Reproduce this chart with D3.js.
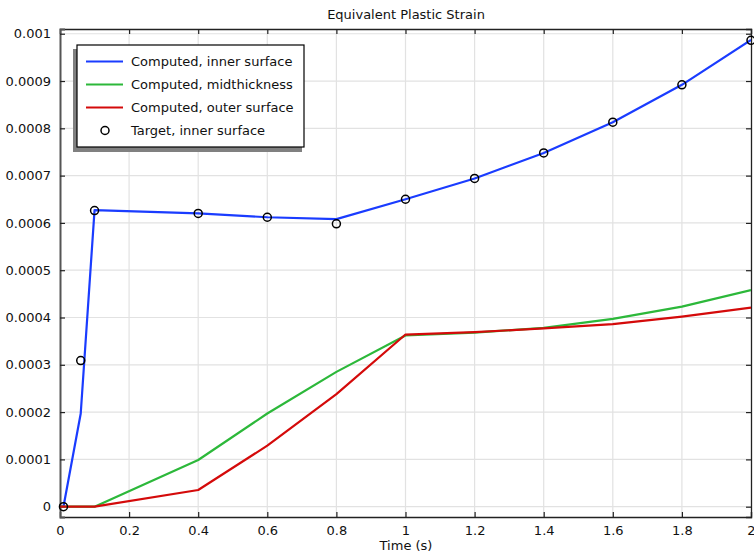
<!DOCTYPE html>
<html>
<head>
<meta charset="utf-8">
<script src="https://cdn.jsdelivr.net/npm/d3@7"></script>
<style>
  body { margin: 0; background: #fff; }
  svg { font-family: "DejaVu Sans", sans-serif; }
</style>
</head>
<body>
<div id="chart"></div>
<script>
var innerTimes = [0, 0.01, 0.06, 0.1, 0.4, 0.6, 0.8, 1.0, 1.2, 1.4, 1.6, 1.8, 2.0];
var innerValues = [0, 0, 0.000197, 0.000627, 0.00062, 0.000612, 0.000608, 0.00065, 0.000694, 0.000748, 0.000813, 0.000892, 0.000987];

var layerTimes = [0, 0.1, 0.4, 0.6, 0.8, 1.0, 1.2, 1.4, 1.6, 1.8, 2.0];
var midValues = [0, 0, 0.0000987, 0.000197, 0.000285, 0.000362, 0.000368, 0.000378, 0.000397, 0.000423, 0.000458];
var outerValues = [0, 0, 0.0000353, 0.000129, 0.000238, 0.000364, 0.000369, 0.000377, 0.000386, 0.000402, 0.000421];

var targetTimes = [0.01, 0.06, 0.1, 0.4, 0.6, 0.8, 1.0, 1.2, 1.4, 1.6, 1.8, 2.0];
var targetValues = [0, 0.000309, 0.000626, 0.00062, 0.000612, 0.000598, 0.00065, 0.000694, 0.000748, 0.000813, 0.000892, 0.000986];

var xTicks = [0, 0.2, 0.4, 0.6, 0.8, 1, 1.2, 1.4, 1.6, 1.8, 2];
var yTicks = [0, 0.0001, 0.0002, 0.0003, 0.0004, 0.0005, 0.0006, 0.0007, 0.0008, 0.0009, 0.001];

var seriesNames = ["Computed, inner surface", "Computed, midthickness", "Computed, outer surface", "Target, inner surface"];
var seriesColors = ["#1a3cff", "#2cb83a", "#d40a0a", "#000"];

var width = 754, height = 555;
var margin = { top: 29, right: 3, bottom: 38, left: 60 };

var svg = d3.select("#chart").append("svg")
    .attr("width", width)
    .attr("height", height);

var x = d3.scaleLinear().domain([0, 2]).range([margin.left, width - margin.right]);
var y = d3.scaleLinear().domain([-0.0000218, 0.00101]).range([height - margin.bottom, margin.top]);

// grid
svg.append("g").selectAll("line.gx")
    .data(xTicks.slice(1, -1))
    .enter().append("line")
    .attr("x1", function (d) { return x(d); })
    .attr("x2", function (d) { return x(d); })
    .attr("y1", margin.top)
    .attr("y2", height - margin.bottom)
    .attr("stroke", "#e2e2e2")
    .attr("stroke-width", 1.2);

svg.append("g").selectAll("line.gy")
    .data(yTicks)
    .enter().append("line")
    .attr("x1", margin.left)
    .attr("x2", width - margin.right)
    .attr("y1", function (d) { return y(d); })
    .attr("y2", function (d) { return y(d); })
    .attr("stroke", "#e2e2e2")
    .attr("stroke-width", 1.2);

// axes
var fmtY = function (d) { return d === 0 ? "0" : d3.format(".4~f")(d); };

var bottomAxis = svg.append("g")
    .attr("transform", "translate(0," + (height - margin.bottom) + ")")
    .call(d3.axisBottom(x).tickValues(xTicks).tickSize(-5).tickPadding(9).tickFormat(d3.format("~g")));
var topAxis = svg.append("g")
    .attr("transform", "translate(0," + margin.top + ")")
    .call(d3.axisTop(x).tickValues(xTicks).tickSize(-5).tickFormat(""));
var leftAxis = svg.append("g")
    .attr("transform", "translate(" + margin.left + ",0)")
    .call(d3.axisLeft(y).tickValues(yTicks).tickSize(-5).tickPadding(9).tickFormat(fmtY));
var rightAxis = svg.append("g")
    .attr("transform", "translate(" + (width - margin.right) + ",0)")
    .call(d3.axisRight(y).tickValues(yTicks).tickSize(-5).tickFormat(""));

[bottomAxis, topAxis, leftAxis, rightAxis].forEach(function (a) {
    a.select(".domain").attr("stroke", "#222").attr("stroke-width", 1.3);
    a.selectAll(".tick line").attr("stroke", "#222").attr("stroke-width", 1.2);
    a.selectAll("text").attr("fill", "#111").style("font-size", "13px").style("font-family", "DejaVu Sans");
});
leftAxis.select(".domain").attr("stroke", "#555").attr("stroke-width", 2);

// title and axis label
svg.append("text")
    .attr("x", 406)
    .attr("y", 19)
    .attr("text-anchor", "middle")
    .style("font-size", "13px")
    .attr("fill", "#111")
    .text("Equivalent Plastic Strain");

svg.append("text")
    .attr("x", 406)
    .attr("y", 550)
    .attr("text-anchor", "middle")
    .style("font-size", "13px")
    .attr("fill", "#111")
    .text("Time (s)");

// lines
svg.append("clipPath").attr("id", "plot-clip").append("rect")
    .attr("x", margin.left).attr("y", margin.top)
    .attr("width", width - margin.left - margin.right)
    .attr("height", height - margin.top - margin.bottom);

var line = d3.line()
    .x(function (d) { return x(d[0]); })
    .y(function (d) { return y(d[1]); });

var series = [
    { times: innerTimes, values: innerValues, color: seriesColors[0] },
    { times: layerTimes, values: midValues, color: seriesColors[1] },
    { times: layerTimes, values: outerValues, color: seriesColors[2] }
];

var plot = svg.append("g").attr("clip-path", "url(#plot-clip)");

series.forEach(function (s) {
    plot.append("path")
        .datum(d3.zip(s.times, s.values))
        .attr("fill", "none")
        .attr("stroke", s.color)
        .attr("stroke-width", 2.2)
        .attr("stroke-linejoin", "round")
        .attr("d", line);
});

svg.append("g").selectAll("circle")
    .data(d3.zip(targetTimes, targetValues))
    .enter().append("circle")
    .attr("cx", function (d) { return x(d[0]); })
    .attr("cy", function (d) { return y(d[1]); })
    .attr("r", 4)
    .attr("fill", "none")
    .attr("stroke", "#000")
    .attr("stroke-width", 1.5);

// legend
var lg = svg.append("g").attr("transform", "translate(77,45)");
lg.append("rect")
    .attr("x", -4).attr("y", 4)
    .attr("width", 229).attr("height", 103)
    .attr("fill", "#808080");
lg.append("rect")
    .attr("width", 227).attr("height", 102)
    .attr("fill", "#fff")
    .attr("stroke", "#000")
    .attr("stroke-width", 1.2);

seriesNames.forEach(function (name, i) {
    var row = lg.append("g").attr("transform", "translate(0," + (16.5 + i * 23) + ")");
    if (i < 3) {
        row.append("line")
            .attr("x1", 9).attr("x2", 46)
            .attr("stroke", seriesColors[i])
            .attr("stroke-width", 2.2);
    } else {
        row.append("circle")
            .attr("cx", 28).attr("r", 4)
            .attr("fill", "none")
            .attr("stroke", "#000")
            .attr("stroke-width", 1.5);
    }
    row.append("text")
        .attr("x", 54)
        .attr("y", 4.5)
        .style("font-size", "13px")
        .attr("fill", "#111")
        .text(name);
});
</script>
</body>
</html>
